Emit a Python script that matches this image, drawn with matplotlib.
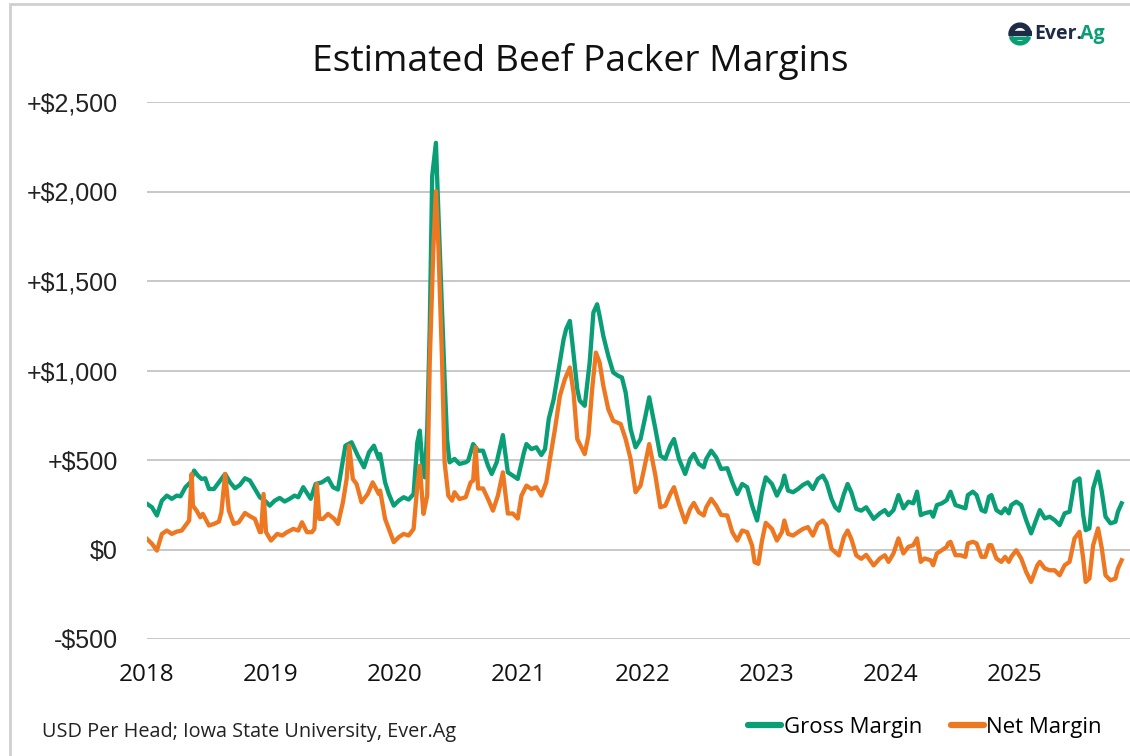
import matplotlib
matplotlib.use("Agg")
import matplotlib.pyplot as plt
from matplotlib.patches import Rectangle, Wedge
from matplotlib.lines import Line2D


TITLE = "Estimated Beef Packer Margins"
SOURCE = "USD Per Head; Iowa State University, Ever.Ag"
GREEN = "#0A9E77"
ORANGE = "#EE7722"

# weekly margins (x in decimal years)
gross_years = [
    2018.00, 2018.04, 2018.08, 2018.12, 2018.16, 2018.20, 2018.24, 2018.27, 2018.31, 2018.35,
    2018.38, 2018.41, 2018.44, 2018.47, 2018.50, 2018.54, 2018.58, 2018.63, 2018.67, 2018.71,
    2018.75, 2018.79, 2018.83, 2018.87, 2018.91, 2018.95, 2018.99, 2019.03, 2019.07, 2019.11,
    2019.15, 2019.19, 2019.22, 2019.26, 2019.32, 2019.36, 2019.41, 2019.46, 2019.50, 2019.54,
    2019.60, 2019.65, 2019.70, 2019.75, 2019.79, 2019.83, 2019.87,
    2019.88, 2019.92, 2019.95, 2019.99, 2020.03, 2020.07, 2020.11, 2020.15, 2020.18, 2020.20,
    2020.22, 2020.24, 2020.26, 2020.28, 2020.30, 2020.33, 2020.35, 2020.37, 2020.40, 2020.42,
    2020.44, 2020.48, 2020.52, 2020.57, 2020.59, 2020.63, 2020.67, 2020.71, 2020.75, 2020.78,
    2020.82, 2020.87, 2020.91, 2020.95, 2020.99, 2021.04, 2021.06, 2021.10, 2021.14, 2021.18,
    2021.21, 2021.24, 2021.28, 2021.32, 2021.36, 2021.38, 2021.41, 2021.43, 2021.47, 2021.49,
    2021.53, 2021.57, 2021.60, 2021.63, 2021.65, 2021.68, 2021.72, 2021.76, 2021.80, 2021.83,
    2021.86, 2021.90, 2021.94,
    2021.98, 2022.02, 2022.05, 2022.10, 2022.14, 2022.18, 2022.22, 2022.25, 2022.29, 2022.34,
    2022.38, 2022.41, 2022.45, 2022.49, 2022.51, 2022.55, 2022.59, 2022.63, 2022.68, 2022.72,
    2022.76, 2022.80, 2022.84, 2022.88, 2022.92, 2022.96, 2022.99, 2023.04, 2023.08, 2023.12,
    2023.14, 2023.17, 2023.21, 2023.25, 2023.29, 2023.33, 2023.37, 2023.41, 2023.45, 2023.48,
    2023.52, 2023.55, 2023.58, 2023.62, 2023.65, 2023.68, 2023.72, 2023.76, 2023.80, 2023.86,
    2023.91, 2023.95, 2023.98, 2024.02, 2024.06, 2024.10, 2024.14, 2024.18, 2024.21, 2024.24,
    2024.27, 2024.32, 2024.34, 2024.37, 2024.41, 2024.45, 2024.46, 2024.48, 2024.52, 2024.56,
    2024.60, 2024.62, 2024.66, 2024.69, 2024.73, 2024.76, 2024.79, 2024.81, 2024.85, 2024.89,
    2024.92, 2024.95, 2024.97, 2025.01, 2025.05, 2025.09, 2025.13, 2025.18, 2025.20, 2025.24,
    2025.28, 2025.32, 2025.36, 2025.40, 2025.44, 2025.48, 2025.52, 2025.55, 2025.57, 2025.60,
    2025.63, 2025.67, 2025.70, 2025.73, 2025.77, 2025.81, 2025.83, 2025.86,
]
gross_margin = [
    255, 236, 190, 273, 301, 283, 301, 297, 348, 375,
    441, 413, 394, 398, 338, 338, 375, 422, 375, 342,
    361, 398, 385, 338, 292, 273, 245, 273, 288, 268,
    283, 301, 292, 348, 283, 366, 375, 398, 348, 335,
    580, 599, 524, 459, 543, 580, 506,
    533, 375, 310, 245, 273, 292, 279, 310, 599, 664,
    487, 403, 673, 1231, 2086, 2272, 1881, 1509, 952, 617,
    487, 506, 478, 487, 496, 589, 552, 552, 468, 422,
    487, 639, 431, 413, 394, 543, 589, 561, 571, 528,
    561, 729, 840, 1008, 1175, 1231, 1277, 1156, 896, 831,
    803, 1045, 1324, 1370, 1305, 1193, 1082, 989, 970, 961,
    877, 673, 571,
    617, 747, 850, 673, 524, 506, 580, 617, 506, 422,
    506, 534, 478, 459, 506, 552, 515, 450, 454, 376,
    310, 366, 348, 245, 162, 320, 403, 366, 301, 357,
    413, 329, 320, 338, 361, 375, 338, 394, 413, 375,
    283, 236, 217, 310, 366, 320, 227, 217, 236, 171,
    202, 220, 192, 220, 304, 230, 267, 258, 323, 192,
    202, 211, 183, 248, 258, 276, 295, 323, 248, 239,
    230, 304, 323, 304, 220, 211, 295, 304, 220, 202,
    230, 202, 248, 267, 248, 164, 90, 183, 220, 174,
    183, 164, 136, 202, 211, 379, 397, 192, 108, 118,
    341, 435, 323, 183, 146, 155, 211, 258,
]

net_years = [
    2018.00, 2018.04, 2018.08, 2018.12, 2018.16, 2018.20, 2018.24, 2018.28, 2018.32, 2018.34,
    2018.36, 2018.37, 2018.40, 2018.43, 2018.45, 2018.50, 2018.54, 2018.58, 2018.60, 2018.63,
    2018.66, 2018.70, 2018.74, 2018.79, 2018.83, 2018.87, 2018.91, 2018.92, 2018.94, 2018.96,
    2019.00, 2019.05, 2019.09, 2019.13, 2019.18, 2019.22, 2019.25, 2019.29, 2019.33, 2019.35,
    2019.37, 2019.39, 2019.42, 2019.46, 2019.51, 2019.54, 2019.58, 2019.61, 2019.63, 2019.66,
    2019.69, 2019.73, 2019.78, 2019.82, 2019.87,
    2019.88, 2019.92, 2019.95, 2019.99, 2020.03, 2020.07, 2020.11, 2020.15, 2020.18, 2020.20,
    2020.22, 2020.23, 2020.26, 2020.28, 2020.31, 2020.33, 2020.35, 2020.38, 2020.40, 2020.43,
    2020.46, 2020.48, 2020.52, 2020.57, 2020.61, 2020.63, 2020.65, 2020.67, 2020.71, 2020.75,
    2020.79, 2020.83, 2020.87, 2020.91, 2020.95, 2020.99, 2021.02, 2021.06, 2021.10, 2021.14,
    2021.18, 2021.22, 2021.25, 2021.29, 2021.33, 2021.37, 2021.41, 2021.44, 2021.47, 2021.51,
    2021.53, 2021.56, 2021.59, 2021.62, 2021.65, 2021.68, 2021.72, 2021.76, 2021.82, 2021.86,
    2021.90, 2021.94,
    2021.98, 2022.02, 2022.05, 2022.10, 2022.14, 2022.18, 2022.22, 2022.25, 2022.29, 2022.34,
    2022.38, 2022.41, 2022.45, 2022.49, 2022.51, 2022.55, 2022.59, 2022.63, 2022.68, 2022.72,
    2022.76, 2022.80, 2022.84, 2022.88, 2022.90, 2022.93, 2022.96, 2022.99, 2023.04, 2023.08,
    2023.12, 2023.14, 2023.17, 2023.21, 2023.25, 2023.29, 2023.33, 2023.37, 2023.41, 2023.45,
    2023.48, 2023.52, 2023.55, 2023.58, 2023.62, 2023.65, 2023.68, 2023.72, 2023.76, 2023.80,
    2023.86,
    2023.91, 2023.95, 2023.98, 2024.02, 2024.06, 2024.10, 2024.14, 2024.18, 2024.21, 2024.24,
    2024.27, 2024.32, 2024.34, 2024.37, 2024.41, 2024.45, 2024.46, 2024.48, 2024.52, 2024.56,
    2024.60, 2024.62, 2024.66, 2024.69, 2024.73, 2024.76, 2024.79, 2024.81, 2024.85, 2024.89,
    2024.92, 2024.95, 2024.97, 2025.01, 2025.05, 2025.09, 2025.13, 2025.18, 2025.20, 2025.24,
    2025.28, 2025.32, 2025.36, 2025.40, 2025.44, 2025.48, 2025.52, 2025.55, 2025.57, 2025.60,
    2025.63, 2025.67, 2025.70, 2025.73, 2025.77, 2025.81, 2025.83, 2025.86,
]
net_margin = [
    59, 32, -6, 87, 106, 87, 100, 106, 143, 162,
    422, 245, 217, 180, 199, 134, 143, 156, 208, 422,
    217, 143, 152, 204, 186, 171, 97, 97, 310, 97,
    50, 87, 78, 97, 115, 106, 152, 97, 97, 115,
    366, 171, 171, 199, 171, 143, 264, 394, 580, 394,
    366, 264, 310, 375, 310,
    329, 171, 115, 41, 69, 87, 78, 115, 357, 468,
    282, 199, 301, 1045, 1695, 2002, 1695, 1045, 487, 301,
    273, 320, 282, 292, 375, 385, 571, 341, 341, 282,
    217, 301, 431, 201, 201, 173, 301, 357, 338, 348,
    301, 375, 506, 673, 859, 952, 1017, 877, 617, 561,
    533, 636, 896, 1100, 1045, 915, 784, 719, 701, 617,
    506, 320,
    357, 487, 589, 413, 236, 245, 310, 348, 255, 152,
    227, 260, 208, 190, 236, 283, 245, 193, 190, 97,
    50, 106, 97, 22, -71, -80, 50, 149, 115, 50,
    97, 162, 87, 78, 97, 115, 125, 78, 143, 162,
    134, 4, -15, -33, 69, 106, 59, -33, -52, -30,
    -89,
    -50, -32, -69, -22, 62, -22, 15, 24, 62, -69,
    -50, -60, -88, -22, -4, 15, 34, 43, -32, -32,
    -41, 34, 43, 34, -41, -41, 24, 24, -50, -69,
    -41, -69, -41, -4, -50, -125, -181, -88, -69, -106,
    -116, -116, -144, -88, -69, 62, 99, -50, -181, -162,
    24, 118, 6, -144, -172, -162, -106, -60,
]

year_ticks = [2018, 2019, 2020, 2021, 2022, 2023, 2024, 2025]
y_ticks = [-500, 0, 500, 1000, 1500, 2000, 2500]
y_labels = ["-$500", "$0", "+$500", "+$1,000", "+$1,500", "+$2,000", "+$2,500"]

W, H = 1130, 756
fig = plt.figure(figsize=(W / 100, H / 100), dpi=100)
fig.patch.set_facecolor("white")

# thin gray frame along the left and top edge
fig.add_artist(Rectangle((10 / W, -0.2), 1.2, 1.2 - 4 / H, transform=fig.transFigure,
                         fill=False, edgecolor="#cfcfcf", linewidth=2))

ax = fig.add_axes([147 / W, 1 - 639 / H, 1 - 147 / W, (639 - 102) / H])
ax.plot(gross_years, gross_margin, color=GREEN, linewidth=3.1, solid_joinstyle="round",
        label="Gross Margin", zorder=3)
ax.plot(net_years, net_margin, color=ORANGE, linewidth=3.1, solid_joinstyle="round",
        label="Net Margin", zorder=4)

ax.set_xlim(2018, 2018 + (W - 147) / 124)
ax.set_ylim(-500, 2500)
ax.set_yticks(y_ticks)
ax.set_yticklabels(y_labels, fontsize=18, family="Liberation Sans", color="#222222")
ax.set_xticks(year_ticks)
ax.set_xticklabels([str(y) for y in year_ticks], fontsize=17.5, family="Open Sans", color="#111111")
ax.tick_params(axis="both", length=0)
ax.tick_params(axis="y", pad=21)
ax.tick_params(axis="x", pad=17)
ax.grid(axis="y", color="#c4c4c4", linewidth=1.3)
ax.set_axisbelow(True)
for side in ["left", "right", "top", "bottom"]:
    ax.spines[side].set_visible(False)

fig.text(580 / W, 1 - 61 / H, TITLE, ha="center", va="center", fontsize=26.8,
         family="Open Sans", color="#111111")
fig.text(42 / W, 1 - 732 / H, SOURCE, ha="left", va="center", fontsize=14.3,
         family="Open Sans", color="#222222")

handles = [Line2D([], [], color=GREEN, linewidth=4.5, solid_capstyle="round"),
           Line2D([], [], color=ORANGE, linewidth=4.5, solid_capstyle="round")]
fig.legend(handles, ["Gross Margin", "Net Margin"], loc="center right",
           bbox_to_anchor=(1122 / W, 1 - 727 / H), ncol=2, frameon=False,
           prop={"family": "Open Sans", "size": 16},
           handlelength=1.5, handletextpad=0.1, columnspacing=1.3)

# Ever.Ag logo, top right
logo = fig.add_axes([1008 / W, 1 - 46 / H, 24 / W, 24 / H])
logo.set_xlim(-1.1, 1.1)
logo.set_ylim(-1.1, 1.1)
logo.set_aspect("equal")
logo.axis("off")
logo.add_patch(Wedge((0, 0), 1.0, 10, 190, width=0.38, color="#1d2b44"))
logo.add_patch(Rectangle((-1.0, -0.05), 2.0, 0.3, color="#1d2b44"))
logo.add_patch(Wedge((0, 0), 1.0, 200, 340, width=0.3, color=GREEN))
logo.add_patch(Rectangle((-0.8, -0.5), 1.6, 0.22, color=GREEN))
fig.text(1034 / W, 1 - 34 / H, "Ever.", ha="left", va="center", fontsize=14,
         family="Open Sans", weight="bold", color="#1d2b44")
fig.text(1080 / W, 1 - 34 / H, "Ag", ha="left", va="center", fontsize=14,
         family="Open Sans", weight="bold", color=GREEN)

fig.savefig("out.png", dpi=100, facecolor="white")
